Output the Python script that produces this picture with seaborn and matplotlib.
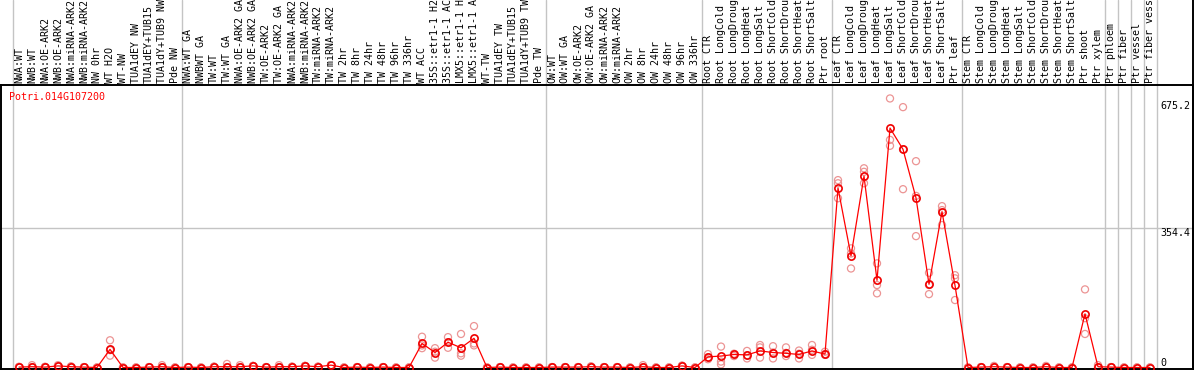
import numpy as np
import pandas as pd
import matplotlib
matplotlib.use("Agg")
import matplotlib.pyplot as plt
import seaborn as sns

# sample labels (as printed along the top, truncated like the original)
labels = [
    "NWA:WT", "NWB:WT", "NWA:OE-ARK2", "NWB:OE-ARK2", "NWA:miRNA-ARK2", "NWB:miRNA-ARK2",
    "NW 0hr", "WT H2O", "WT-NW", "TUA1dEY NW", "TUA1dEY+TUB15", "TUA1dY+TUB9 NW", "Pde NW",
    "NWA:WT GA", "NWBWT GA", "TW:WT", "TW:WT GA", "NWA:OE-ARK2 GA", "NWB:OE-ARK2 GA",
    "TW:OE-ARK2", "TW:OE-ARK2 GA", "NWA:miRNA-ARK2", "NWB:miRNA-ARK2", "TW:miRNA-ARK2",
    "TW:miRNA-ARK2", "TW 2hr", "TW 8hr", "TW 24hr", "TW 48hr", "TW 96hr", "TW 336hr",
    "WT ACC", "35S::etr1-1 H2", "35S::etr1-1 AC", "LMX5::etr1-1 H", "LMX5::etr1-1 A",
    "WT-TW", "TUA1dEY TW", "TUA1dEY+TUB15", "TUA1dY+TUB9 TW", "Pde TW",
    "OW:WT", "OW:WT GA", "OW:OE-ARK2", "OW:OE-ARK2 GA", "OW:miRNA-ARK2", "OW:miRNA-ARK2",
    "OW 2hr", "OW 8hr", "OW 24hr", "OW 48hr", "OW 96hr", "OW 336hr",
    "Root CTR", "Root LongCold", "Root LongDroug", "Root LongHeat", "Root LongSalt",
    "Root ShortCold", "Root ShortDrou", "Root ShortHeat", "Root ShortSalt", "Ptr root",
    "Leaf CTR", "Leaf LongCold", "Leaf LongDroug", "Leaf LongHeat", "Leaf LongSalt",
    "Leaf ShortCold", "Leaf ShortDrou", "Leaf ShortHeat", "Leaf ShortSalt", "Ptr leaf",
    "Stem CTR", "Stem LongCold", "Stem LongDroug", "Stem LongHeat", "Stem LongSalt",
    "Stem ShortCold", "Stem ShortDrou", "Stem ShortHeat", "Stem ShortSalt", "Ptr shoot",
    "Ptr xylem", "Ptr phloem", "Ptr fiber", "Ptr vessel", "Ptr fiber vess",
]

# number of samples in each experiment block (separated by grey lines)
group_sizes = [13, 28, 12, 10, 10, 11, 1, 1, 1, 1]

# mean expression
expr_mean = (
    [1, 2, 1, 4, 2, 1, 0, 46, 0, 0, 1, 2, 0]
    + [1, 0, 2, 2, 2, 4, 1, 2, 2, 4, 2, 6, 0, 1, 0, 1, 0, 0,
       61, 38, 64, 50, 74, 0, 1, 0, 0, 0]
    + [1, 1, 1, 2, 1, 1, 0, 2, 0, 0, 4, 0]
    + [27, 29, 33, 32, 42, 38, 36, 33, 42, 34]
    + [455, 283, 485, 221, 607, 553, 430, 211, 395, 208]
    + [0, 1, 2, 1, 0, 0, 2, 0, 0, 136, 2]
    + [1, 0, 0, 0]
)

# biological replicates
rep_a = (
    [1, 6, 2, 6, 3, 1, 0, 69, 0, 0, 1, 6, 0]
    + [1, 0, 2, 9, 6, 4, 1, 6, 2, 4, 2, 6, 0, 1, 0, 1, 0, 0,
       78, 49, 77, 85, 105, 0, 1, 0, 0, 0]
    + [1, 1, 1, 3, 1, 1, 0, 6, 0, 0, 5, 0]
    + [34, 53, 35, 42, 57, 54, 51, 43, 57, 40]
    + [475, 302, 505, 264, 682, 660, 523, 240, 409, 234]
    + [0, 1, 4, 1, 0, 0, 4, 0, 0, 198, 6]
    + [1, 0, 0, 0]
)
rep_b = (
    [1, 1, 1, 3, 2, 1, 0, 44, 0, 0, 1, 1, 0]
    + [1, 0, 2, 1, 1, 4, 1, 1, 2, 4, 2, 6, 0, 1, 0, 1, 0, 0,
       56, 40, 64, 36, 61, 0, 1, 0, 0, 0]
    + [1, 1, 1, 2, 1, 1, 0, 1, 0, 0, 4, 0]
    + [26, 15, 33, 31, 51, 38, 37, 35, 45, 34]
    + [467, 289, 496, 209, 577, 553, 435, 209, 399, 226]
    + [0, 1, 1, 1, 0, 0, 1, 0, 0, 125, 0]
    + [1, 0, 0, 0]
)
rep_c = (
    [2, 1, 1, 3, 1, 1, 0, 30, 0, 0, 1, 1, 0]
    + [1, 0, 2, 1, 1, 4, 1, 1, 2, 4, 2, 6, 0, 1, 0, 1, 0, 0,
       49, 25, 50, 30, 56, 0, 1, 0, 0, 0]
    + [1, 1, 1, 2, 1, 1, 0, 0, 0, 0, 4, 0]
    + [21, 8, 29, 23, 25, 23, 29, 23, 32, 32]
    + [429, 251, 467, 188, 562, 452, 333, 186, 361, 171]
    + [0, 1, 1, 1, 0, 0, 1, 0, 0, 85, 0]
    + [1, 0, 0, 0]
)

gene = "Potri.014G107200"
grid_values = [354.4]
value_labels = [(675.2, "675.2", "top"), (354.4, "354.4", "top"), (0, "0", "bottom")]

pos = np.arange(len(labels))
means = pd.DataFrame({"pos": pos, "value": expr_mean})
reps = pd.DataFrame({
    "pos": np.tile(pos, 3),
    "value": rep_a + rep_b + rep_c,
})

sns.set_style("white")
plt.rcParams["font.family"] = ["DejaVu Sans Mono"]

W, H = 1194, 370
fig = plt.figure(figsize=(W / 100, H / 100), dpi=100)
top_px, bot_px = 85, 369
ax = fig.add_axes([1 / W, (H - bot_px) / H, 1192 / W, (bot_px - top_px) / H])

# grey separators between experiments, running through the label strip
ext = 1 + top_px / (bot_px - top_px)
edges = np.cumsum([0] + group_sizes) - 0.5
for e in edges:
    ax.axvline(e, ymin=0, ymax=ext, color="#c4c4c4", lw=1, clip_on=False, zorder=0)
for g in grid_values:
    ax.axhline(g, color="#c4c4c4", lw=1, zorder=0)

sns.scatterplot(data=reps, x="pos", y="value", ax=ax, marker="o",
                facecolor="none", edgecolor="#ec9494", linewidth=0.9, s=26, zorder=2)
sns.lineplot(data=means, x="pos", y="value", ax=ax, color="red", lw=0.9,
             marker="o", markersize=5.2, markerfacecolor="none",
             markeredgecolor="#f00000", markeredgewidth=1.2, zorder=3)

ax.set_xlim((1 - 19) / 13, (1193 - 19) / 13)
ax.set_ylim((367.5 - bot_px) / 0.3945, (367.5 - top_px) / 0.3945)
ax.set_xlabel("")
ax.set_ylabel("")
ax.set_yticks([])

ax.xaxis.tick_top()
ax.set_xticks(pos)
ax.set_xticklabels(labels, rotation=90, fontsize=7.2)
ax.tick_params(axis="x", length=0, pad=1.5, labelcolor="black")

for side in ["left", "bottom", "top", "right"]:
    ax.spines[side].set_color("black")
    ax.spines[side].set_linewidth(1.4)
# right border runs to the top of the picture
ax.axvline(ax.get_xlim()[1], ymin=0, ymax=ext, color="black", lw=1.4, clip_on=False)

for v, txt, va in value_labels:
    ax.text((1160 - 1) / 1192, v, txt, transform=ax.get_yaxis_transform(),
            ha="left", va=va, fontsize=7.2, color="black")

fig.text(9 / W, 1 - 97 / H, gene, color="red", fontsize=7.2, ha="left", va="center")

fig.savefig("out.png", dpi=100)
